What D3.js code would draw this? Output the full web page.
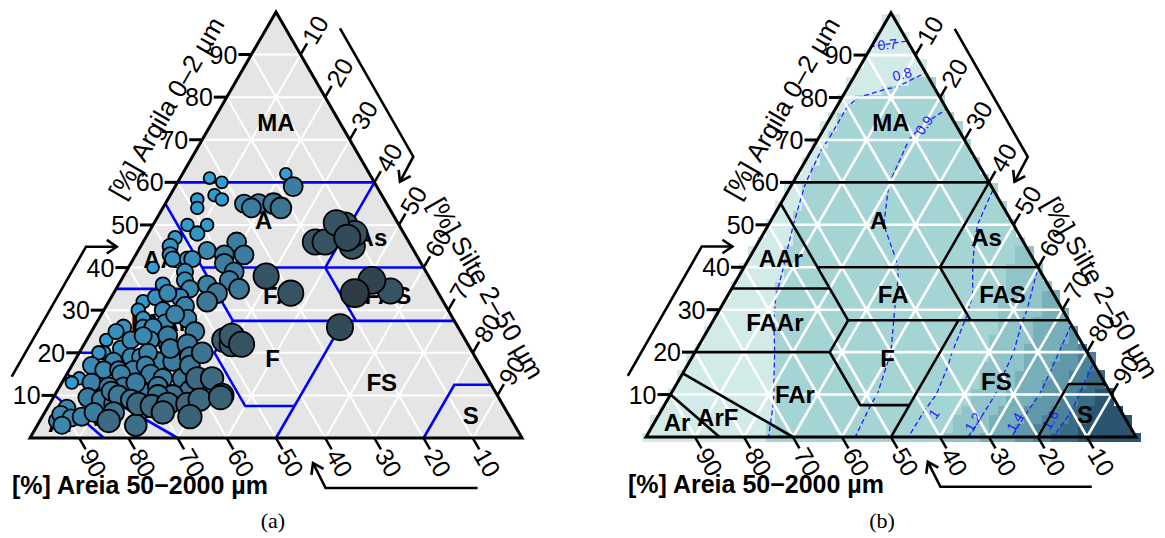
<!DOCTYPE html>
<html>
<head>
<meta charset="utf-8">
<script src="https://cdn.jsdelivr.net/npm/d3@7"></script>
<style>
  body { margin: 0; background: #fff; }
  svg { display: block; }
</style>
</head>
<body>
<svg id="fig" width="1165" height="538"></svg>
<script>
// ---------------- data ----------------
const axisTicks = [10, 20, 30, 40, 50, 60, 70, 80, 90];

// textural classes (SBCS triangle) and the point (clay %, silt %) where each name sits
const classNames = ["MA", "A", "As", "AAr", "FA", "FAS", "FAAr", "F", "FS", "FAr", "ArF", "Ar", "S"];
const classClay  = [74, 51, 47, 42, 33.5, 33.5, 27, 18.6, 13, 10, 4.7, 3.3, 5.2];
const classSilt  = [13, 22, 46, 6.5, 33.7, 56, 12.8, 40, 65, 25.4, 12.3, 4.7, 87];

// class boundaries, each a polyline of [clay %, silt %] vertices
const classLines = [
  [[60, 0], [60, 40]],
  [[55, 0], [27.5, 27.5]],
  [[35, 0], [35, 20]],
  [[40, 15], [40, 60]],
  [[60, 40], [40, 40]],
  [[40, 40], [27.5, 52.5]],
  [[27.5, 27.5], [27.5, 72.5]],
  [[27.5, 27.5], [20, 27.5], [7.5, 40], [7.5, 50]],
  [[20, 0], [20, 27.5]],
  [[27.5, 50], [0, 50]],
  [[0, 80], [12.5, 80], [12.5, 87.5]],
  [[15, 0], [0, 30]],
  [[10, 0], [0, 15]]
];

// soil samples: clay %, silt % and a scaled score (colour and size of the circle)
const sampleClay = [
  61,60,62,59,56,57,56,55,55,55, 54,54,54,50,50,47,45,43,42,40,
  42,42,46,43,43,41,39,37,35,38, 34,39,37,35,34,32,33,34,31,32,
  30,28,27,26,28,25,24,26,26,25, 23,23,23,22,22,19,23,22,22,24,
  20,20,18,19,19,18,18,17,16,16, 16,15,14,14,14,14,10,12,11,10,
  10,11,12,12,13,14,13,9.5,9,8, 8,7.5,8,8,9,9.5,4,7,5.5,4.7,
  4,7,6,10,46,46,50,47,45,48, 50.5,34,37,34.5,26,21,24,20,17,15,
  13,11,9,6,5,3,21,30,29,36, 44,48,36,33,17,20,12,6,5,3
];
const sampleSilt = [
  6,9,21,24,6,9,11,16,19,22, 24,18,7,7,11,6,6,7,8,5,
  11,12,19,18,22,19,22,22,25,29, 36,12,13,15,21,20,14,11,16,7,
  7,9,14,12,18,21,16,10,6,5, 4,9,13,17,21,23,28,30,32,29,
  5,4,8,11,13,17,20,4,7,10, 13,17,20,24,27,30,34,30,27,24,
  21,17,13,10,6,3,2,7,10,13, 18,21,24,28,30,34,14,4,3.5,6,
  3.5,19.5,10,13,35,37,39,41,43,42, 37,49,51,56,50,8,11,14,15,11,
  15,11,16,14,8,5,18,12,15,18, 14,10,9,9,24,25,20,24,30,20
];
const sampleScore = [
  .1,.1,.1,.5,.15,.15,.15,.45,.5,.6, .6,.5,.15,.15,.15,.2,.3,.3,.3,.1,
  .3,.35,.5,.5,.5,.5,.5,.5,.55,.85, .85,.35,.35,.4,.55,.55,.4,.4,.45,.2,
  .2,.25,.4,.4,.45,.5,.5,.3,.3,.3, .15,.4,.4,.45,.55,.55,.8,.8,.85,.8,
  .2,.2,.4,.4,.4,.45,.5,.4,.4,.4, .45,.5,.5,.55,.7,.7,.75,.6,.6,.6,
  .6,.5,.5,.5,.45,.15,.15,.5,.5,.5, .7,.7,.7,.7,.7,.75,.7,.4,.4,.4,
  .35,.55,.5,.55,.85,.85,.85,.9,.85,.85, .85,1,.95,.85,.9,.35,.4,.45,.45,.45,
  .5,.5,.55,.6,.45,.4,.5,.35,.45,.45, .4,.25,.25,.3,.55,.6,.55,.7,.75,.65
];

// predicted surface on a 10 % lattice: row = clay 0,10,...,100 ; column = silt 0,10,...
const surfaceRows = [
  [0.70, 0.74, 0.78, 0.82, 0.88, 0.954, 1.084, 1.286, 1.533, 1.75, 1.85],
  [0.72, 0.76, 0.795, 0.84, 0.886, 0.95, 1.068, 1.278, 1.508, 1.78],
  [0.73, 0.77, 0.818, 0.859, 0.90, 0.967, 1.10, 1.298, 1.537],
  [0.74, 0.795, 0.835, 0.873, 0.92, 0.987, 1.152, 1.325],
  [0.75, 0.812, 0.852, 0.892, 0.948, 1.026, 1.20],
  [0.77, 0.829, 0.882, 0.933, 0.982, 1.05],
  [0.785, 0.842, 0.902, 0.95, 0.99],
  [0.79, 0.836, 0.91, 0.94],
  [0.79, 0.82, 0.885],
  [0.72, 0.74],
  [0.62]
];
const contourLevels = [0.7, 0.8, 0.9, 1, 1.2, 1.4, 1.6];
const fillBreaks = [0.8, 1.1, 1.25, 1.4, 1.5, 1.6, 1.7];
const fillColors = ["#d3ebe8", "#a5d4d4", "#8fc4c8", "#78b0ba", "#5f98a9", "#4a8399", "#386b84", "#2b5470"];

// ---------------- helpers ----------------
const SANS = "'Liberation Sans', Arial, sans-serif";
const SERIF = "'Liberation Serif', 'Times New Roman', serif";
const svg = d3.select("#fig");

function makeTriangle(x0, y0, w) {
  const h = w * Math.sqrt(3) / 2;
  const sx = d3.scaleLinear().domain([0, 100]).range([x0, x0 + w]);
  const sy = d3.scaleLinear().domain([0, 100]).range([y0, y0 - h]);
  const proj = (clay, silt) => [sx(silt + clay / 2), sy(clay)];
  const toTernary = (px, py) => { const clay = sy.invert(py); return [clay, sx.invert(px) - clay / 2]; };
  return { x0, y0, w, h, sx, sy, proj, toTernary };
}

// linear interpolation of the lattice inside each small triangle
function surfaceAt(c, s) {
  c = Math.max(0, Math.min(100, c));
  s = Math.max(0, s);
  if (c + s > 100) { const k = 100 / (c + s); c *= k; s *= k; }
  const R = surfaceRows;
  const gc = c / 10, gs = s / 10;
  const i = Math.floor(gc), j = Math.floor(gs);
  if (i >= 10) return R[10][0];
  if (i + j >= 10) return R[i][10 - i];
  const fc = gc - i, fs = gs - j;
  if (fc + fs > 1 && i + j <= 8) {
    return (fc + fs - 1) * R[i + 1][j + 1] + (1 - fs) * R[i + 1][j] + (1 - fc) * R[i][j + 1];
  }
  const t = fc + fs > 1 ? 1 / (fc + fs) : 1;
  const a = fc * t, b = fs * t;
  return (1 - a - b) * R[i][j] + a * R[i + 1][j] + b * R[i][j + 1];
}

const line = d3.line();

function outlinePath(T) {
  return line([T.proj(0, 0), T.proj(0, 100), T.proj(100, 0)]) + "Z";
}

function drawGrid(g, T, width) {
  const gg = g.append("g").attr("stroke", "#fff").attr("stroke-width", width).attr("fill", "none");
  axisTicks.forEach(k => {
    gg.append("path").attr("d", line([T.proj(k, 0), T.proj(k, 100 - k)]));
    gg.append("path").attr("d", line([T.proj(0, k), T.proj(100 - k, k)]));
    gg.append("path").attr("d", line([T.proj(0, 100 - k), T.proj(100 - k, 0)]));
  });
}

function drawBoundaries(g, T, color) {
  g.append("g").selectAll("path").data(classLines).join("path")
    .attr("d", d => line(d.map(p => T.proj(p[0], p[1]))))
    .attr("fill", "none").attr("stroke", color).attr("stroke-width", 2.6)
    .attr("stroke-linejoin", "miter");
}

function drawClassLabels(g, T) {
  g.append("g").selectAll("text").data(classNames).join("text")
    .attr("x", (d, i) => T.proj(classClay[i], classSilt[i])[0])
    .attr("y", (d, i) => T.proj(classClay[i], classSilt[i])[1])
    .attr("text-anchor", "middle").attr("dominant-baseline", "central")
    .attr("font-family", SANS).attr("font-weight", "bold").attr("font-size", 24)
    .attr("fill", "#000").text(d => d);
}

function drawArrow(g, pts) {
  g.append("path").attr("d", line(pts)).attr("fill", "none")
    .attr("stroke", "#000").attr("stroke-width", 2.6);
  const [a, b] = pts.slice(-2);
  const ang = Math.atan2(b[1] - a[1], b[0] - a[0]);
  const L = 12, spread = 0.6;
  const wing = s => [b[0] - L * Math.cos(ang + s), b[1] - L * Math.sin(ang + s)];
  g.append("path").attr("d", line([wing(spread), b, wing(-spread)]))
    .attr("fill", "none").attr("stroke", "#000").attr("stroke-width", 2.6);
}

function drawFrame(g, T) {
  // outline
  g.append("path").attr("d", outlinePath(T)).attr("fill", "none")
    .attr("stroke", "#000").attr("stroke-width", 3).attr("stroke-linejoin", "miter");

  const TL = 13;
  const tk = g.append("g");
  const c60 = Math.cos(Math.PI / 3), s60 = Math.sin(Math.PI / 3);
  axisTicks.forEach(k => {
    // clay (left edge)
    let [x, y] = T.proj(k, 0);
    tk.append("line").attr("x1", x).attr("y1", y).attr("x2", x - TL).attr("y2", y)
      .attr("stroke", "#000").attr("stroke-width", 3);
    tk.append("text").attr("x", x - TL - 1).attr("y", y)
      .attr("text-anchor", "end").attr("dominant-baseline", "central")
      .attr("font-family", SANS).attr("font-size", 25).text(k);
    // silt (right edge)
    [x, y] = T.proj(100 - k, k);
    let ex = x + TL * c60, ey = y - TL * s60;
    tk.append("line").attr("x1", x).attr("y1", y).attr("x2", ex).attr("y2", ey)
      .attr("stroke", "#000").attr("stroke-width", 2.5);
    tk.append("text").attr("transform", `translate(${ex + 1},${ey - 1.5}) rotate(-60)`)
      .attr("text-anchor", "start").attr("dominant-baseline", "central")
      .attr("font-family", SANS).attr("font-size", 25).text(k);
    // sand (bottom edge)
    [x, y] = T.proj(0, 100 - k);
    ex = x + TL * c60; ey = y + TL * s60;
    tk.append("line").attr("x1", x).attr("y1", y).attr("x2", ex).attr("y2", ey)
      .attr("stroke", "#000").attr("stroke-width", 2.5);
    tk.append("text").attr("transform", `translate(${ex + 1},${ey + 1.5}) rotate(60)`)
      .attr("text-anchor", "start").attr("dominant-baseline", "central")
      .attr("font-family", SANS).attr("font-size", 25).text(k);
  });

  // axis titles
  const u = T.w / 492;
  const nL = [-Math.cos(Math.PI / 6), -0.5], nR = [Math.cos(Math.PI / 6), -0.5];
  let [ax, ay] = T.proj(72, 0);
  g.append("text")
    .attr("transform", `translate(${ax + 47 * u * nL[0]},${ay + 47 * u * nL[1]}) rotate(-60)`)
    .attr("text-anchor", "middle").attr("dominant-baseline", "central")
    .attr("font-family", SANS).attr("font-size", 26).text("[%] Argila 0\u20132 \u00b5m");
  [ax, ay] = T.proj(30, 70);
  g.append("text")
    .attr("transform", `translate(${ax + 44 * u * nR[0]},${ay + 44 * u * nR[1]}) rotate(60)`)
    .attr("text-anchor", "middle").attr("dominant-baseline", "central")
    .attr("font-family", SANS).attr("font-size", 26).text("[%] Silte 2\u201350 \u00b5m");
  g.append("text").attr("x", T.x0 - 18).attr("y", T.y0 + 56)
    .attr("font-family", SANS).attr("font-weight", "bold").attr("font-size", 25)
    .text("[%] Areia 50\u22122000 \u00b5m");

  // reading-direction arrows
  const P = (dx, dy) => [T.x0 + dx * u, T.y0 + dy * u];
  drawArrow(g, [P(-18.3, -61.3), P(56, -191.3), P(86.7, -191.3)]);
  drawArrow(g, [P(310, -409.7), P(383.3, -281.3), P(370, -256.3)]);
  drawArrow(g, [P(447.6, 50), P(295.6, 50), P(283, 25)]);
}

// ---------------- panel (a): samples ----------------
const triA = makeTriangle(30, 438, 492);
const gA = svg.append("g");
gA.append("path").attr("d", outlinePath(triA)).attr("fill", "#e5e5e5");
drawGrid(gA, triA, 2);
drawBoundaries(gA, triA, "#0000ff");
drawClassLabels(gA, triA);

const scoreColor = d3.scaleLinear().domain([0, 0.35, 0.7, 1])
  .range(["#2aa6e0", "#3a8cb8", "#3d6a80", "#2d3c46"]);
const scoreRadius = d3.scaleLinear().domain([0, 1]).range([5, 14]);
const samples = d3.range(sampleClay.length)
  .map(i => ({ clay: sampleClay[i], silt: sampleSilt[i], score: sampleScore[i] }))
  .sort((a, b) => a.score - b.score);
gA.append("g").selectAll("circle").data(samples).join("circle")
  .attr("cx", d => triA.proj(d.clay, d.silt)[0])
  .attr("cy", d => triA.proj(d.clay, d.silt)[1])
  .attr("r", d => scoreRadius(d.score))
  .attr("fill", d => scoreColor(d.score))
  .attr("stroke", "#000").attr("stroke-width", 1.8);
drawFrame(gA, triA);

// ---------------- panel (b): predicted surface ----------------
const triB = makeTriangle(646, 437, 490);
const gB = svg.append("g");
const fillScale = d3.scaleThreshold().domain(fillBreaks).range(fillColors);

// raster of square cells whose centres fall inside the triangle
const cell = 8.9, tol = 0.4;
const cells = [];
for (let k = 0; k * cell <= triB.h + cell; k++) {
  const cy = triB.y0 - k * cell;
  for (let m = 0; m * cell <= triB.w + cell; m++) {
    const cx = triB.x0 + m * cell;
    const [c, s] = triB.toTernary(cx, cy);
    if (c >= -tol && s >= -tol && 100 - c - s >= -tol) cells.push({ cx, cy, v: surfaceAt(c, s) });
  }
}
gB.append("g").attr("shape-rendering", "crispEdges").selectAll("rect").data(cells).join("rect")
  .attr("x", d => d.cx - cell / 2).attr("y", d => d.cy - cell / 2)
  .attr("width", cell + 0.6).attr("height", cell + 0.6)
  .attr("fill", d => fillScale(d.v));

// iso-lines of the same surface
const res = 2, pad = 12;
const bx = triB.x0 - pad, by = triB.y0 - triB.h - pad;
const nx = Math.ceil((triB.w + 2 * pad) / res), ny = Math.ceil((triB.h + 2 * pad) / res);
const grid = new Float64Array(nx * ny);
for (let j = 0; j < ny; j++) {
  for (let i = 0; i < nx; i++) {
    const [c, s] = triB.toTernary(bx + (i + 0.5) * res, by + (j + 0.5) * res);
    grid[j * nx + i] = surfaceAt(c, s);
  }
}
const iso = d3.contours().size([nx, ny]).thresholds(contourLevels)(grid);
const isoPath = d3.geoPath(d3.geoIdentity().scale(res).translate([bx, by]));
svg.append("defs").append("clipPath").attr("id", "clipB")
  .append("path").attr("d", outlinePath(triB));
gB.append("g").attr("clip-path", "url(#clipB)").selectAll("path").data(iso).join("path")
  .attr("d", isoPath).attr("fill", "none")
  .attr("stroke", "#1f1fff").attr("stroke-width", 1.3).attr("stroke-dasharray", "5,3");

drawGrid(gB, triB, 2.6);

// iso-line labels (clay %, silt %, rotation)
const isoLabelSpots = [[92.5, 3, -5], [85.5, 9.5, -15], [73.5, 20, -55], [5.5, 56, -55], [3.5, 65, -60], [3.5, 73.5, -60], [4, 80.5, -60]];
gB.append("g").selectAll("text").data(contourLevels).join("text")
  .attr("transform", (d, i) => {
    const [x, y] = triB.proj(isoLabelSpots[i][0], isoLabelSpots[i][1]);
    return `translate(${x},${y}) rotate(${isoLabelSpots[i][2]})`;
  })
  .attr("text-anchor", "middle").attr("dominant-baseline", "central")
  .attr("font-family", SANS).attr("font-size", 14).attr("fill", "#2020ff")
  .text(d => d3.format("~g")(d));

drawBoundaries(gB, triB, "#000");
drawClassLabels(gB, triB);
drawFrame(gB, triB);

// ---------------- captions ----------------
svg.append("text").attr("x", 273).attr("y", 528).attr("text-anchor", "middle")
  .attr("font-family", SERIF).attr("font-size", 22).text("(a)");
svg.append("text").attr("x", 882).attr("y", 528).attr("text-anchor", "middle")
  .attr("font-family", SERIF).attr("font-size", 22).text("(b)");
</script>
</body>
</html>
